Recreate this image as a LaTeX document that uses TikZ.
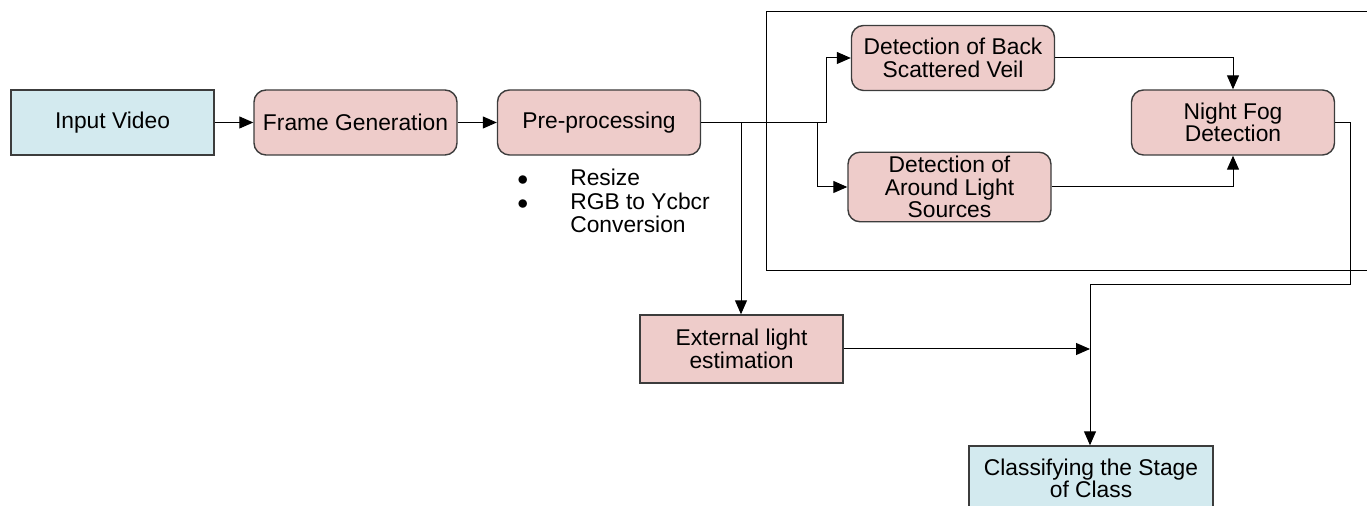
\documentclass[tikz,border=0pt]{standalone}
\usepackage{fontspec}
\setmainfont{Liberation Sans}
\usetikzlibrary{arrows.meta,positioning,calc}
\definecolor{boxpink}{RGB}{238,204,202}
\definecolor{boxblue}{RGB}{211,234,239}
\definecolor{edgegray}{RGB}{60,60,60}

\begin{document}
\begin{tikzpicture}[x=0.5pt,y=-0.5pt,
  font=\fontsize{11.4}{11.2}\selectfont,
  blk/.style={draw=edgegray,line width=0.7pt,minimum width=101.5pt,minimum height=32.5pt,align=center,inner sep=2pt},
  proc/.style={blk,fill=boxpink,rounded corners=6pt},
  io/.style={blk,fill=boxblue},
  arr/.style={-{Triangle[length=7pt,width=6pt]},line width=0.5pt}]
  \useasboundingbox (0,0) rectangle (1367,506);

  % frame round the detection stage
  \draw[line width=0.5pt] (1380,12) -- (766,12) -- (766,271) -- (1380,271);

  % blocks
  \node[io] (vid) at (112.5,122.5) {Input Video};
  \node[proc] (frame) at (355.5,122.5) {Frame Generation};
  \node[proc] (pre) at (599,122.5) {Pre-processing};
  \node[proc] (back) at (953,58) {Detection of Back\\Scattered Veil};
  \node[proc] (around) at (949.5,187) {Detection of\\Around Light\\Sources};
  \node[proc] (fog) at (1233,122.5) {Night Fog\\Detection};
  \node[blk,fill=boxpink,minimum height=34pt] (ext) at (741.5,349) {External light\\estimation};
  \node[io,minimum width=122pt] (cls) at (1091,478.5) {Classifying the Stage\\of Class};

  % preprocessing steps
  \node[anchor=north west,inner sep=0pt,font=\fontsize{11.4}{11}\selectfont] (steps) at (517,169) {%
    \begin{tabular}{@{}l@{\hspace{21pt}}l@{}}
      $\bullet$ & Resize\\
      $\bullet$ & RGB to Ycbcr\\
                & Conversion
    \end{tabular}};

  % branch points
  \coordinate (j1) at (741,122.5);
  \coordinate (j2) at (817,122.5);
  \coordinate (j3) at (826,122.5);
  \coordinate (bend) at (1350,285);
  \coordinate (merge) at (1090,285);

  \draw[arr] (vid) -- (frame);
  \draw[arr] (frame) -- (pre);
  \draw[arr] (pre.east) -- (j3) |- (back.west);
  \draw[arr] (j2) |- (around.west);
  \draw[arr] (j1) -- (j1 |- ext.north);
  \draw[arr] (back.east) -| (fog.north);
  \draw[arr] (around.east) -| (fog.south);
  \draw[arr] (fog.east) -| (bend) -- (merge) -- (merge |- cls.north);
  \draw[arr] (ext.east) -- (ext.east -| merge);
\end{tikzpicture}
\end{document}
